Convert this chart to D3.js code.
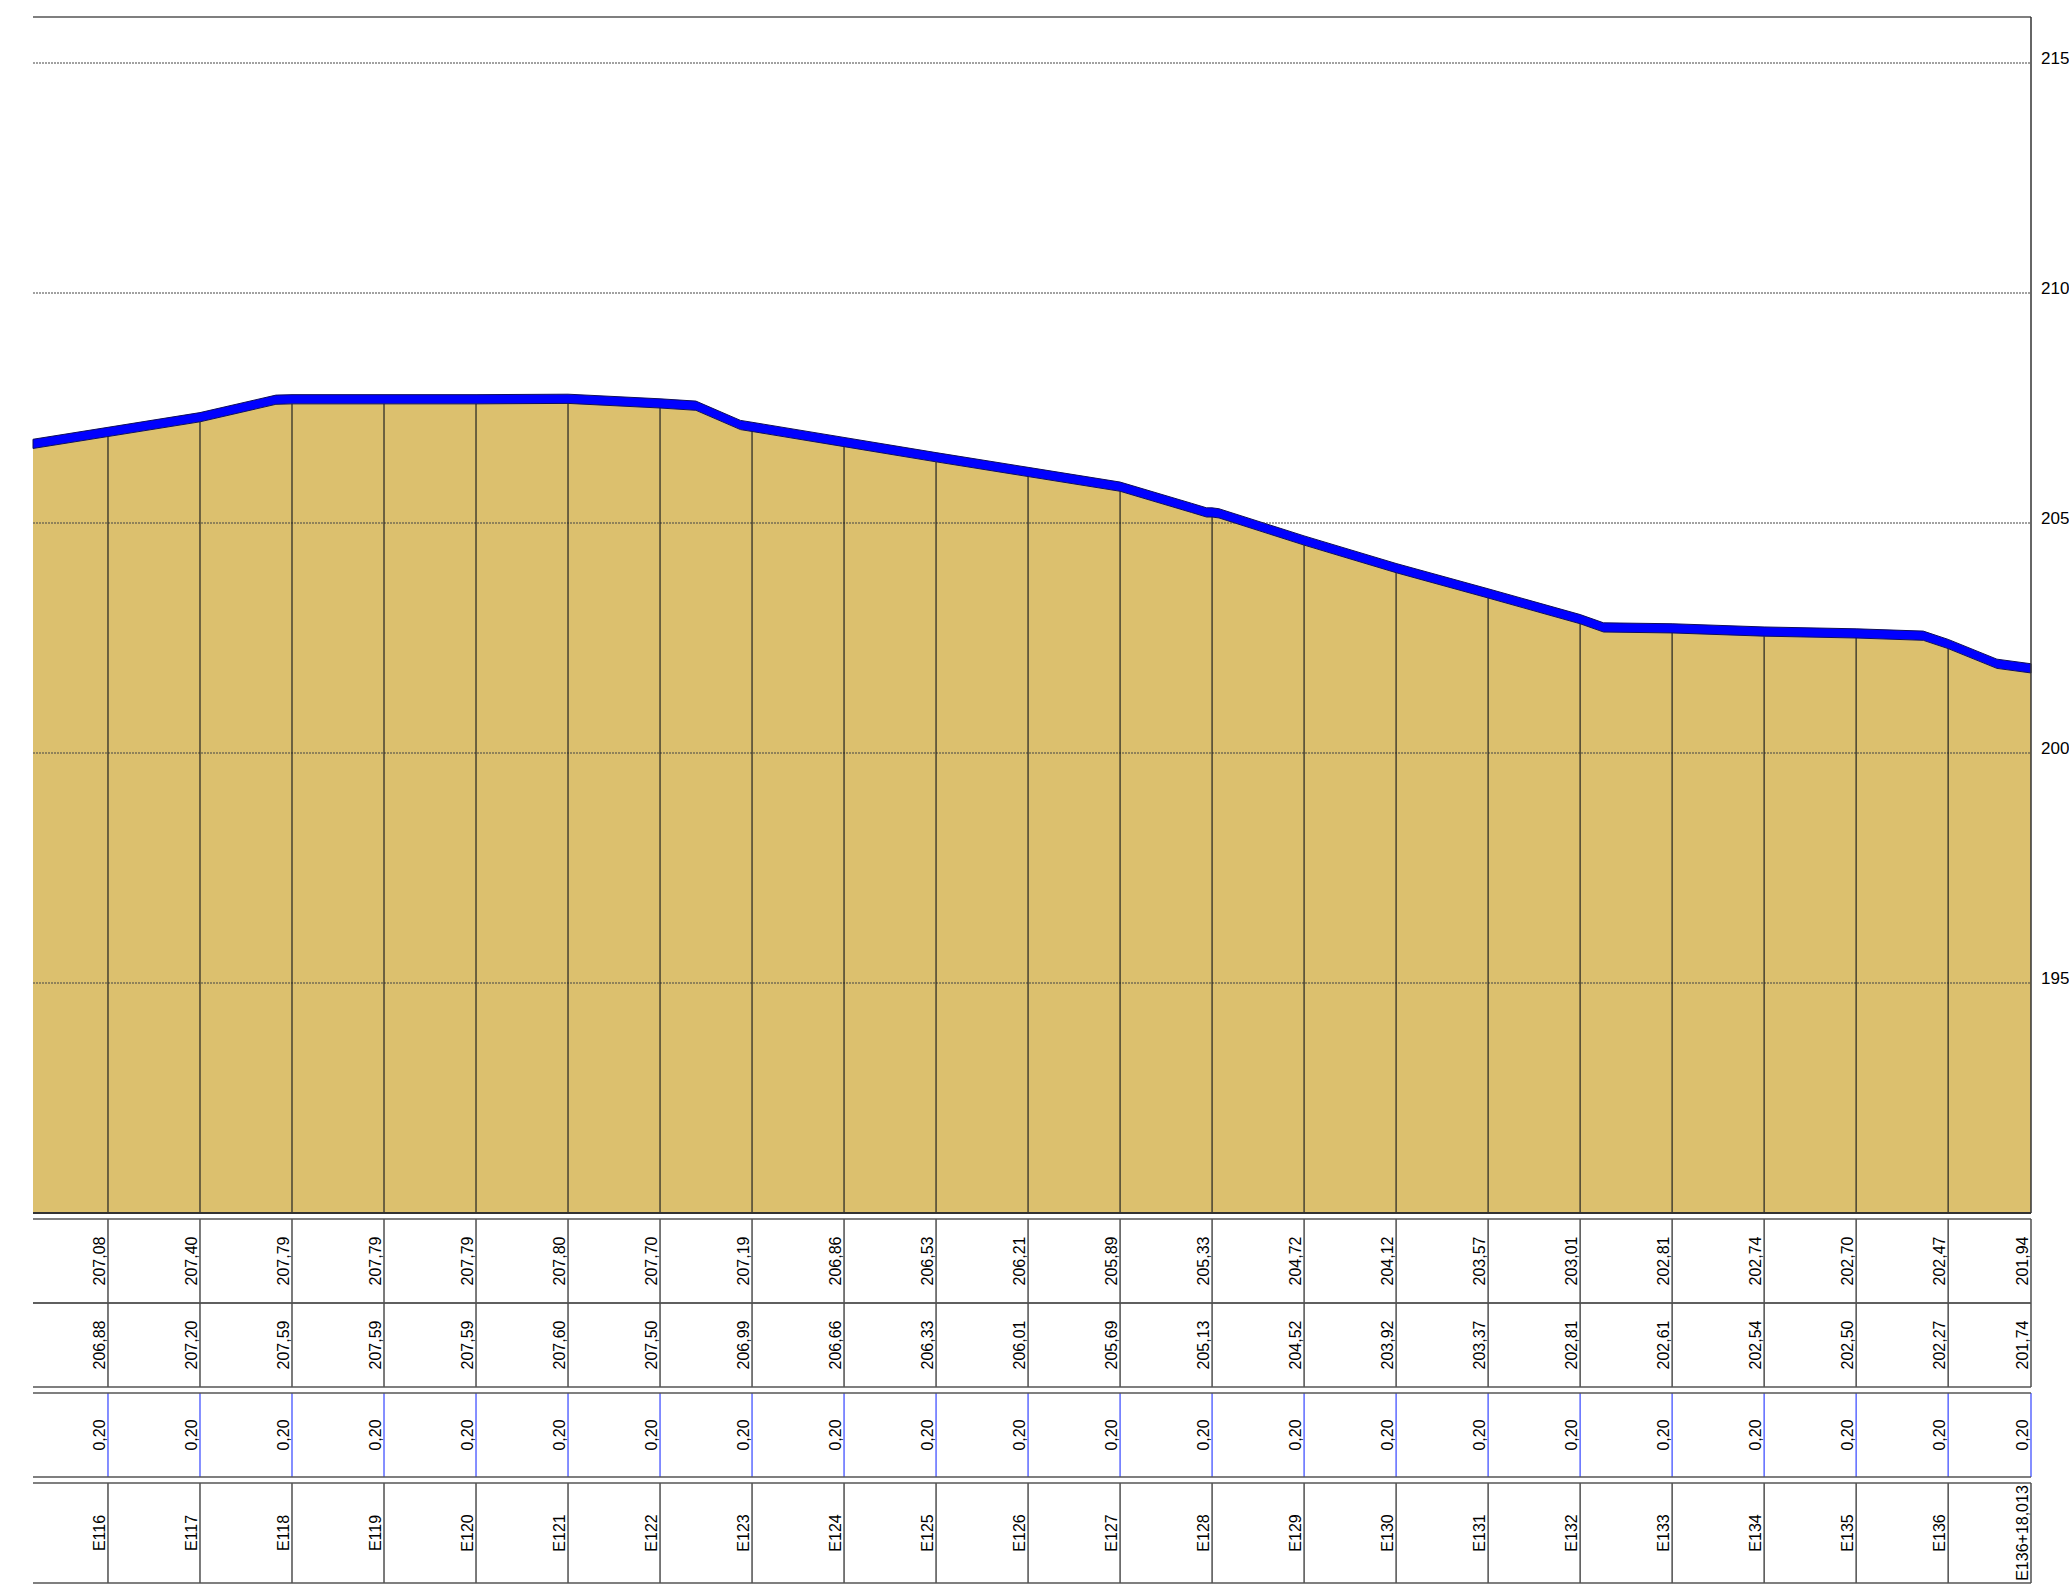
<!DOCTYPE html>
<html>
<head>
<meta charset="utf-8">
<script src="https://cdn.jsdelivr.net/npm/d3@7"></script>
<style>
	body { margin: 0; background: #fff; }
	svg { display: block; }
	.cell { font-family: "Liberation Sans Narrow", "Arial Narrow", "Liberation Sans", sans-serif; font-size: 16px; fill: #000; }
	.elev { font-family: "Liberation Sans", Arial, sans-serif; font-size: 17px; fill: #000; }
</style>
</head>
<body>
<svg id="chart"></svg>
<script>
// stations along the profile (distance in m from E116)
var stations = ["E116", "E117", "E118", "E119", "E120", "E121", "E122", "E123", "E124", "E125", "E126",
	"E127", "E128", "E129", "E130", "E131", "E132", "E133", "E134", "E135", "E136", "E136+18,013"];
var stationDist = [0, 20, 40, 60, 80, 100, 120, 140, 160, 180, 200, 220, 240, 260, 280, 300, 320, 340, 360, 380, 400, 418.013];

// table rows
var topLevel = ["207,08", "207,40", "207,79", "207,79", "207,79", "207,80", "207,70", "207,19", "206,86", "206,53", "206,21",
	"205,89", "205,33", "204,72", "204,12", "203,57", "203,01", "202,81", "202,74", "202,70", "202,47", "201,94"];
var baseLevel = ["206,88", "207,20", "207,59", "207,59", "207,59", "207,60", "207,50", "206,99", "206,66", "206,33", "206,01",
	"205,69", "205,13", "204,52", "203,92", "203,37", "202,81", "202,61", "202,54", "202,50", "202,27", "201,74"];
var thickness = ["0,20", "0,20", "0,20", "0,20", "0,20", "0,20", "0,20", "0,20", "0,20", "0,20", "0,20",
	"0,20", "0,20", "0,20", "0,20", "0,20", "0,20", "0,20", "0,20", "0,20", "0,20", "0,20"];

// profile vertices (top of layer), incl. break points between stations
var profileDist = [-16.3, 0, 20, 36.5, 40, 60, 80, 100, 120, 127.8, 137.5, 140, 160, 180, 200, 220,
	235.5, 238.8, 240, 241.5, 260, 280, 300, 320, 325.1, 340, 360, 380, 394.6, 400, 410.6, 418.013];
var profileTop = [206.82, 207.08, 207.40, 207.78, 207.79, 207.79, 207.79, 207.80, 207.70, 207.65, 207.23, 207.19, 206.86, 206.53, 206.21, 205.89,
	205.43, 205.33, 205.33, 205.31, 204.72, 204.12, 203.57, 203.01, 202.83, 202.81, 202.74, 202.70, 202.65, 202.47, 202.04, 201.94];
var layerThickness = 0.20;

var elevTicks = [195, 200, 205, 210, 215];
var elevDomain = [190, 216];
var distDomain = [-16.3, 418.013];

function num(s) {
	return +s.replace(",", ".");
}

function main() {
	var W = 2069, H = 1590;
	var plot = { left: 33, right: 2031, top: 17, bottom: 1213 };

	var svg = d3.select("#chart")
		.attr("width", W)
		.attr("height", H);

	var xScale = d3.scaleLinear()
		.domain(distDomain)
		.range([plot.left, plot.right]);

	var yScale = d3.scaleLinear()
		.domain(elevDomain)
		.range([plot.bottom, plot.top]);

	var profile = profileDist.map(function (d, i) {
		return { x: d, top: profileTop[i] };
	});

	// ground fill
	var ground = d3.area()
		.x(function (d) { return xScale(d.x); })
		.y0(yScale(elevDomain[0]))
		.y1(function (d) { return yScale(d.top - layerThickness); });

	svg.append("path")
		.datum(profile)
		.attr("fill", "#dcc06e")
		.attr("d", ground);

	// gridlines
	svg.append("g")
		.selectAll("line")
		.data(elevTicks)
		.enter().append("line")
		.attr("x1", plot.left)
		.attr("x2", plot.right)
		.attr("y1", function (d) { return yScale(d); })
		.attr("y2", function (d) { return yScale(d); })
		.attr("stroke", "#444")
		.attr("stroke-width", 1)
		.attr("stroke-dasharray", "2,1");

	// elevation labels on the right
	var axis = svg.append("g")
		.attr("transform", "translate(" + plot.right + ",0)")
		.call(d3.axisRight(yScale).tickValues(elevTicks).tickSize(0).tickPadding(10).tickFormat(d3.format("d")));
	axis.select(".domain").remove();
	axis.selectAll("text")
		.attr("class", "elev")
		.attr("dy", "0")
		.attr("font-family", null)
		.attr("font-size", null);

	// station lines inside the plot
	svg.append("g")
		.selectAll("line")
		.data(stationDist.slice(0, stationDist.length - 1))
		.enter().append("line")
		.attr("x1", function (d) { return xScale(d); })
		.attr("x2", function (d) { return xScale(d); })
		.attr("y1", function (d, i) { return yScale(num(baseLevel[i])); })
		.attr("y2", plot.bottom)
		.attr("stroke", "#222")
		.attr("stroke-width", 1.2);

	// blue layer band
	var band = d3.area()
		.x(function (d) { return xScale(d.x); })
		.y0(function (d) { return yScale(d.top - layerThickness); })
		.y1(function (d) { return yScale(d.top); });

	svg.append("path")
		.datum(profile)
		.attr("fill", "#0000ff")
		.attr("stroke", "#10105a")
		.attr("stroke-width", 1)
		.attr("stroke-linejoin", "round")
		.attr("d", band);

	// frame
	svg.append("line")
		.attr("x1", plot.left).attr("x2", plot.right)
		.attr("y1", plot.top).attr("y2", plot.top)
		.attr("stroke", "#555").attr("stroke-width", 1.5);
	svg.append("line")
		.attr("x1", plot.right).attr("x2", plot.right)
		.attr("y1", plot.top).attr("y2", plot.bottom)
		.attr("stroke", "#333").attr("stroke-width", 1.5);
	svg.append("line")
		.attr("x1", plot.left).attr("x2", plot.right)
		.attr("y1", plot.bottom).attr("y2", plot.bottom)
		.attr("stroke", "#333").attr("stroke-width", 2);

	// table below the plot
	var rows = [
		{ y0: 1219, y1: 1303, values: topLevel, lineColor: "#222" },
		{ y0: 1303, y1: 1387, values: baseLevel, lineColor: "#222" },
		{ y0: 1393, y1: 1477, values: thickness, lineColor: "#3344ff" },
		{ y0: 1483, y1: 1583, values: stations, lineColor: "#222" }
	];

	var table = svg.append("g");

	rows.forEach(function (row) {
		var g = table.append("g");

		g.selectAll("line.v")
			.data(stationDist)
			.enter().append("line")
			.attr("class", "v")
			.attr("x1", function (d) { return xScale(d); })
			.attr("x2", function (d) { return xScale(d); })
			.attr("y1", row.y0)
			.attr("y2", row.y1)
			.attr("stroke", row.lineColor)
			.attr("stroke-width", 1.2);

		[row.y0, row.y1].forEach(function (y) {
			g.append("line")
				.attr("x1", plot.left).attr("x2", plot.right)
				.attr("y1", y).attr("y2", y)
				.attr("stroke", "#555").attr("stroke-width", 1.5);
		});

		g.selectAll("text")
			.data(row.values)
			.enter().append("text")
			.attr("class", "cell")
			.attr("text-anchor", "middle")
			.attr("transform", function (d, i) {
				return "translate(" + (xScale(stationDist[i]) - 3) + "," + ((row.y0 + row.y1) / 2) + ") rotate(-90)";
			})
			.text(function (d) { return d; });
	});
}

main();
</script>
</body>
</html>
